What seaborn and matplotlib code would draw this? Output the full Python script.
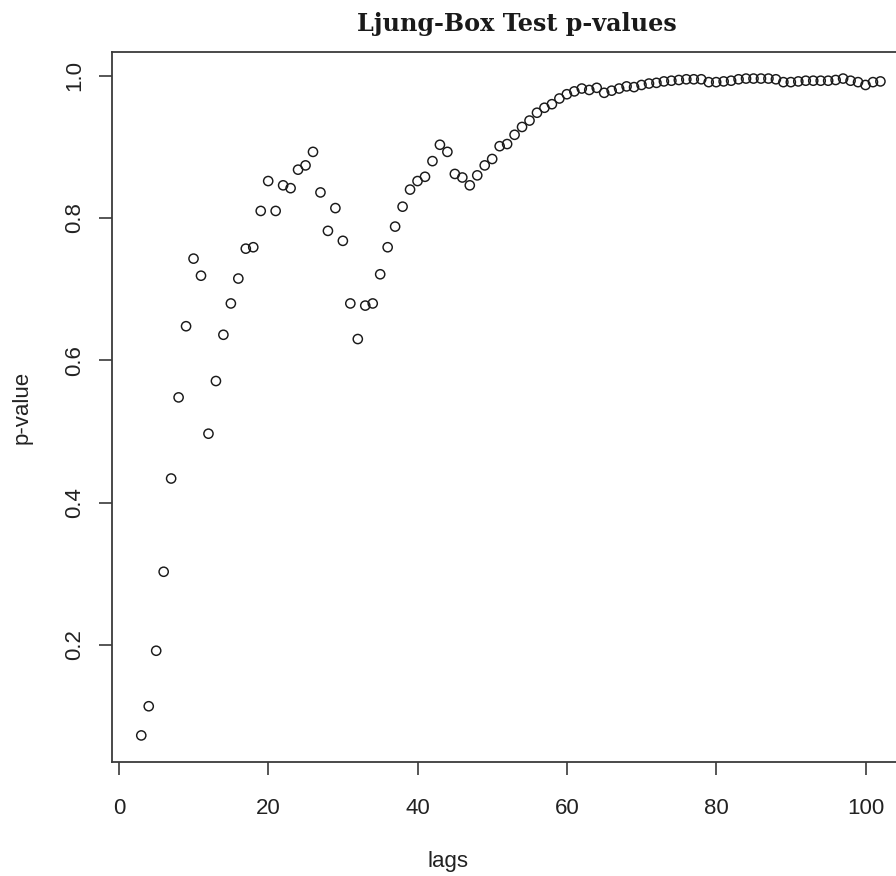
import matplotlib
matplotlib.use("Agg")
import matplotlib.pyplot as plt
import seaborn as sns
import numpy as np
import pandas as pd

# ---- data ----
lags = list(range(3, 103))
p_values = [
    0.073, 0.114, 0.192, 0.303, 0.434, 0.548, 0.648, 0.743, 0.719, 0.497,   # 3-12
    0.571, 0.636, 0.680, 0.715, 0.757, 0.759, 0.810, 0.852, 0.810, 0.846,   # 13-22
    0.842, 0.868, 0.874, 0.893, 0.836, 0.782, 0.814, 0.768, 0.680, 0.630,   # 23-32
    0.677, 0.680, 0.721, 0.759, 0.788, 0.816, 0.840, 0.852, 0.858, 0.880,   # 33-42
    0.903, 0.893, 0.862, 0.857, 0.846, 0.860, 0.874, 0.883, 0.901, 0.904,   # 43-52
    0.917, 0.928, 0.937, 0.948, 0.955, 0.960, 0.968, 0.974, 0.978, 0.982,   # 53-62
    0.980, 0.983, 0.976, 0.979, 0.982, 0.985, 0.984, 0.987, 0.989, 0.990,   # 63-72
    0.992, 0.993, 0.994, 0.995, 0.995, 0.995, 0.991, 0.991, 0.992, 0.993,   # 73-82
    0.995, 0.996, 0.996, 0.996, 0.996, 0.995, 0.991, 0.991, 0.992, 0.993,   # 83-92
    0.993, 0.993, 0.993, 0.994, 0.996, 0.993, 0.991, 0.987, 0.991, 0.992,   # 93-102
]
x_ticks = [0, 20, 40, 60, 80, 100]
y_ticks = [0.2, 0.4, 0.6, 0.8, 1.0]
title = "Ljung-Box Test p-values"
x_label = "lags"
y_label = "p-value"

df = pd.DataFrame({"lags": lags, "p": p_values})

sns.set_style("white")
plt.rcParams["font.family"] = ["Liberation Sans", "DejaVu Sans"]

W, H = 896, 876
fig = plt.figure(figsize=(W / 100, H / 100), dpi=100)
left_px, right_px, top_px, bottom_px = 111.7, 910.0, 52.3, 761.7
ax = fig.add_axes([left_px / W, 1 - bottom_px / H,
                   (right_px - left_px) / W, (bottom_px - top_px) / H])

sns.scatterplot(data=df, x="lags", y="p", ax=ax, marker="o", s=44,
                facecolors="none", edgecolor="#1a1a1a", linewidth=1.05)

# R-style 4% axis padding
def r_lim(v):
    lo, hi = min(v), max(v)
    r = hi - lo
    return lo - 0.04 * r, hi + 0.04 * r

ax.set_xlim(*r_lim(lags))
ax.set_ylim(*r_lim(p_values))
ax.set_xticks(x_ticks)
ax.set_xticklabels([str(t) for t in x_ticks])
ax.set_yticks(y_ticks)
ax.set_yticklabels([f"{t:.1f}" for t in y_ticks], rotation=90, va="center")

for sp in ax.spines.values():
    sp.set_color("#3a3a3a")
    sp.set_linewidth(1.3)

ax.tick_params(axis="x", bottom=True, direction="out", length=9.4, width=1.2,
               color="#3a3a3a", labelsize=16, pad=17, labelcolor="#222222")
ax.tick_params(axis="y", left=True, direction="out", length=9.4, width=1.2,
               color="#3a3a3a", labelsize=16, pad=9.5, labelcolor="#222222")

ax.set_xlabel(x_label, fontsize=16, color="#222222")
ax.set_ylabel(y_label, fontsize=16, color="#222222")
ax.xaxis.set_label_coords((448 - left_px) / (right_px - left_px),
                          (bottom_px - 862) / (bottom_px - top_px))
ax.xaxis.label.set_va("center")
ax.yaxis.set_label_coords((22 - left_px) / (right_px - left_px), 0.5)
ax.yaxis.label.set_va("center")

ax.set_title(title, fontsize=17.2, fontweight="bold",
             family=["DejaVu Serif", "Liberation Serif"],
             x=(517 - left_px) / (right_px - left_px), pad=15.5, color="#1a1a1a")

fig.savefig("out.png", dpi=100, facecolor="white")
